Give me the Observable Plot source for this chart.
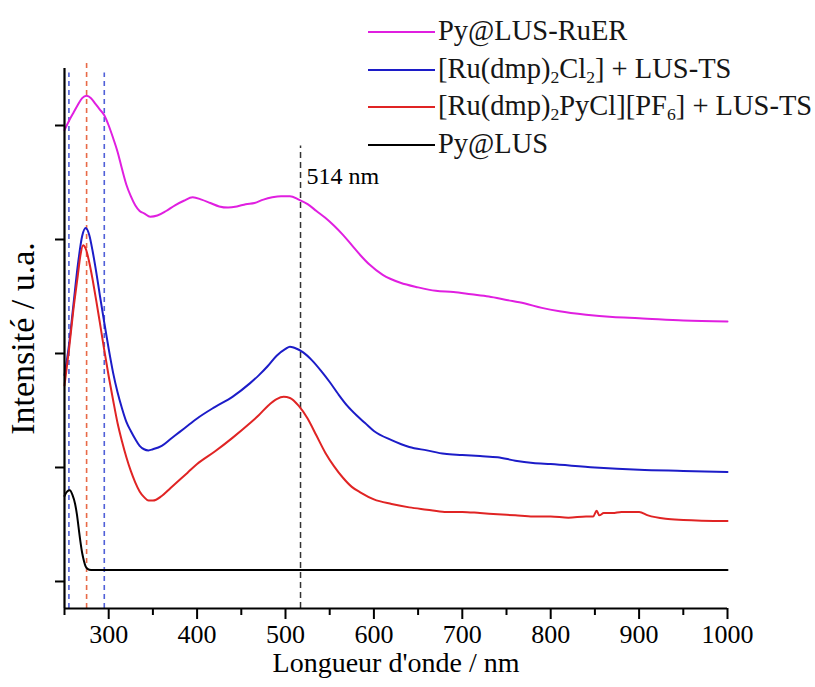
<!DOCTYPE html>
<html><head><meta charset="utf-8">
<script src="https://cdn.jsdelivr.net/npm/d3@7"></script>
<script src="https://cdn.jsdelivr.net/npm/@observablehq/plot@0.6"></script>
<style>
body{margin:0;background:#fff;}
#wrap{position:relative;width:815px;height:687px;font-family:"Liberation Serif","Times New Roman",serif;}
#legend{position:absolute;left:0;top:0;width:815px;height:0;}
.row{position:absolute;left:368px;height:0;white-space:nowrap;font-size:28.5px;color:#161616;}
.row .ln{position:absolute;left:0;width:67px;height:2px;top:-1px}
.row .tx{position:absolute;left:70px;top:-18px;line-height:34px}
sub{font-size:0.62em;vertical-align:-0.3em;line-height:0}
svg{display:block}
</style></head><body><div id="wrap"><div id="legend"></div></div>
<script>
// ---- data (wavelength in nm, intensity in arbitrary units) ----
const nmRuER = [250,255,260,265,270,275,280,285,290,295,300,305,310,315,320,325,330,335,340,347,355,365,375,385,395,405,415,425,435,445,455,465,475,485,495,505,515,525,535,545,555,565,575,585,595,610,630,650,670,690,710,730,750,770,790,810,840,870,900,950,1000];
const intRuER = [3.96,4.04,4.11,4.18,4.24,4.26,4.24,4.19,4.14,4.09,4.00,3.89,3.77,3.62,3.48,3.38,3.30,3.25,3.23,3.20,3.21,3.25,3.30,3.34,3.37,3.35,3.32,3.29,3.28,3.29,3.31,3.32,3.35,3.37,3.38,3.38,3.35,3.31,3.25,3.19,3.12,3.04,2.95,2.86,2.78,2.69,2.62,2.58,2.55,2.54,2.52,2.50,2.47,2.44,2.40,2.37,2.34,2.32,2.31,2.29,2.28];

const nmCl2 = [250,255,260,265,270,274,278,282,286,290,295,300,305,310,315,320,325,330,335,340,345,350,360,370,380,390,400,420,440,460,470,480,490,500,505,510,520,530,540,550,560,570,580,590,600,620,640,660,680,700,720,740,760,780,800,850,900,950,1000];
const intCl2 = [1.81,2.07,2.42,2.77,3.03,3.10,3.04,2.89,2.71,2.51,2.27,2.04,1.83,1.66,1.52,1.40,1.32,1.25,1.19,1.16,1.15,1.16,1.19,1.25,1.31,1.37,1.43,1.53,1.62,1.74,1.81,1.89,1.98,2.04,2.06,2.05,2.01,1.94,1.85,1.75,1.64,1.54,1.46,1.39,1.32,1.24,1.18,1.15,1.12,1.11,1.10,1.09,1.06,1.04,1.03,1.00,0.98,0.97,0.96];

const nmPyCl = [250,255,260,265,268,271,274,278,282,286,290,295,300,305,310,315,320,325,330,335,340,345,350,360,370,380,390,400,420,440,460,470,480,490,498,505,515,525,535,545,555,565,575,585,600,620,640,660,680,700,720,740,760,780,800,820,840,848,852,855,860,870,880,890,900,910,930,950,1000];
const intPyCl = [1.72,2.03,2.38,2.68,2.86,2.95,2.92,2.80,2.64,2.46,2.27,2.03,1.80,1.59,1.39,1.23,1.09,0.97,0.87,0.79,0.74,0.71,0.71,0.75,0.82,0.89,0.96,1.03,1.14,1.26,1.39,1.46,1.54,1.60,1.62,1.61,1.54,1.43,1.28,1.13,1.01,0.91,0.83,0.78,0.72,0.68,0.65,0.63,0.61,0.61,0.60,0.59,0.58,0.57,0.57,0.56,0.57,0.57,0.62,0.58,0.60,0.60,0.61,0.61,0.61,0.58,0.55,0.54,0.53];

const nmPyLUS = [250,253,256,259,262,264,266,268,270,272,274,276,280,300,500,700,1000];
const intPyLUS = [0.75,0.79,0.80,0.76,0.68,0.59,0.47,0.35,0.25,0.18,0.13,0.11,0.10,0.10,0.10,0.10,0.10];

const seriesLabels = [
  "Py@LUS-RuER",
  "[Ru(dmp)<sub>2</sub>Cl<sub>2</sub>] + LUS-TS",
  "[Ru(dmp)<sub>2</sub>PyCl][PF<sub>6</sub>] + LUS-TS",
  "Py@LUS"
];
const blueMarkers = [255, 295];
const redMarkers = [275];
const markerNm = 517;           // position of the "514 nm" guide
const markerLabel = "514 nm";
const xMajorTicks = [300,400,500,600,700,800,900,1000];
const xMinorTicks = [250,350,450,550,650,750,850,950];
const yTicks = [0,1,2,3,4];
const xTitle = "Longueur d'onde / nm";
const yTitle = "Intensité / u.a.";

// ---- styles ----
const colors = ["#e01fe0", "#1c1cc8", "#e02424", "#000000"];
const xDomain = [250, 1000];
const yDomain = [-0.237, 4.5];
const redDashTop = 4.55, blueDashTop = 4.46, markerTop = 3.82, markerLabelY = 3.55;

const zip = (xs, ys) => xs.map((x, i) => ({nm: x, v: ys[i]}));
const series = [zip(nmRuER, intRuER), zip(nmCl2, intCl2), zip(nmPyCl, intPyCl), zip(nmPyLUS, intPyLUS)];

const chart = Plot.plot({
  width: 815, height: 687,
  marginLeft: 64, marginRight: 88, marginTop: 68, marginBottom: 79,
  x: {domain: xDomain},
  y: {domain: yDomain},
  style: {fontFamily: "'Liberation Serif', 'Times New Roman', serif", background: "white", color: "#000", overflow: "visible"},
  marks: [
    Plot.ruleX(blueMarkers, {y1: yDomain[0], y2: blueDashTop, stroke: "#5060d8", strokeDasharray: "5,4", strokeWidth: 1.6}),
    Plot.ruleX(redMarkers, {y1: yDomain[0], y2: redDashTop, stroke: "#e86a48", strokeDasharray: "5,4", strokeWidth: 1.6}),
    Plot.ruleX([markerNm], {y1: yDomain[0], y2: markerTop, stroke: "#333", strokeDasharray: "6,4", strokeWidth: 1.5}),
    ...series.map((s, i) => Plot.lineY(s, {x: "nm", y: "v", stroke: colors[i], strokeWidth: 2, curve: "monotone-x"})),
    Plot.text([{x: markerNm, y: markerLabelY, t: markerLabel}], {x: "x", y: "y", text: "t", textAnchor: "start", dx: 6, fontSize: 24}),
    Plot.axisX({ticks: xMajorTicks, tickSize: 11, tickPadding: 5, fontSize: 26, strokeWidth: 2, tickFormat: d => String(d), label: null}),
    Plot.axisX({ticks: xMinorTicks, tickSize: 7, tickFormat: () => "", strokeWidth: 2, label: null}),
    Plot.axisY({ticks: yTicks, tickSize: 9, tickFormat: () => "", strokeWidth: 2, label: null}),
    Plot.ruleY([yDomain[0]], {strokeWidth: 2.2}),
    Plot.ruleX([xDomain[0]], {strokeWidth: 2.2}),
    Plot.text([xTitle], {frameAnchor: "bottom", dy: 63, fontSize: 28}),
    Plot.text([yTitle], {frameAnchor: "left", textAnchor: "middle", dx: -41, rotate: -90, fontSize: 34})
  ]
});
document.getElementById("wrap").appendChild(chart);

const legend = document.getElementById("legend");
const rowY = [32, 69.5, 107, 144.5];
seriesLabels.forEach((lab, i) => {
  const row = document.createElement("div");
  row.className = "row";
  row.style.top = rowY[i] + "px";
  row.innerHTML = `<div class="ln" style="background:${colors[i]}"></div><div class="tx">${lab}</div>`;
  legend.appendChild(row);
});
</script>
</body></html>
